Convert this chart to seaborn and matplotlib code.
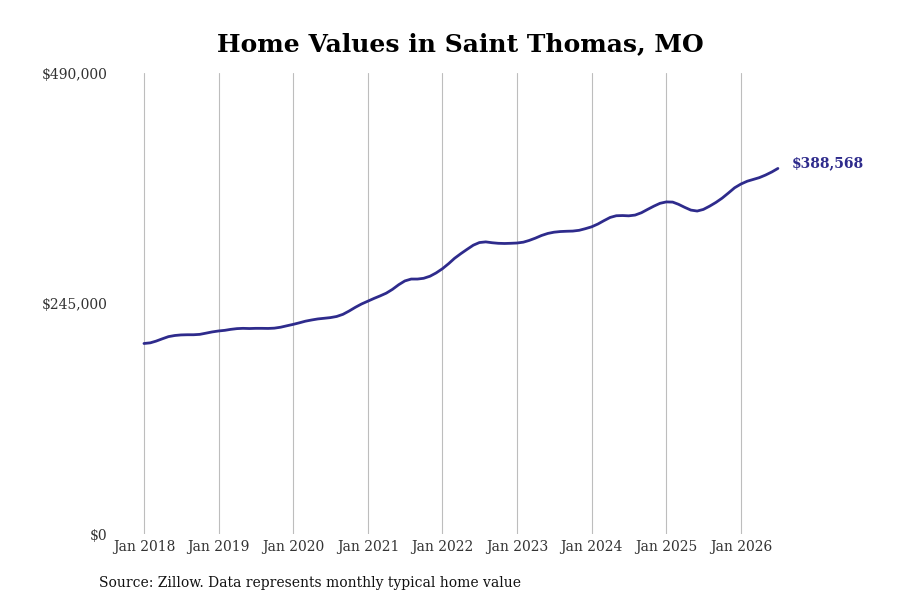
import pandas as pd
import seaborn as sns
import matplotlib.pyplot as plt
import matplotlib.ticker as mticker

# monthly typical home value, Jan 2018 - Jul 2026 (thousands of $)
values_2018 = [202.5, 203.2, 205.0, 207.5, 209.8, 211.0, 211.6, 211.8, 211.8, 212.2, 213.5, 214.8]
values_2019 = [215.8, 216.5, 217.5, 218.3, 218.6, 218.4, 218.6, 218.6, 218.5, 218.8, 219.8, 221.3]
values_2020 = [222.8, 224.5, 226.2, 227.5, 228.6, 229.3, 230.0, 231.2, 233.5, 237.0, 241.0, 244.5]
values_2021 = [247.5, 250.5, 253.0, 256.0, 260.0, 265.0, 269.0, 271.0, 271.0, 271.8, 274.0, 277.5]
values_2022 = [282.0, 287.5, 293.0, 298.0, 302.5, 307.0, 309.8, 310.5, 309.6, 309.0, 308.8, 309.0]
values_2023 = [309.3, 310.2, 312.0, 314.5, 317.3, 319.5, 320.8, 321.5, 321.8, 322.0, 322.8, 324.5]
values_2024 = [326.5, 329.5, 333.0, 336.5, 338.3, 338.5, 338.2, 339.0, 341.5, 345.0, 348.5, 351.5]
values_2025 = [353.0, 352.8, 350.5, 347.2, 344.3, 343.3, 345.0, 348.5, 352.5, 357.0, 362.5, 368.0]
values_2026 = [372.0, 375.0, 376.8, 378.8, 381.5, 384.8, 388.568]

all_values = (values_2018 + values_2019 + values_2020 + values_2021 + values_2022
              + values_2023 + values_2024 + values_2025 + values_2026)
dates = pd.date_range('2018-01-01', periods=len(all_values), freq='MS')
df = pd.DataFrame({'Date': dates, 'Value': [v * 1000 for v in all_values]})

y_ticks = [0, 245000, 490000]
x_tick_years = list(range(2018, 2027))
last_label = '$388,568'

line_color = '#2e2b8c'

sns.set_style('white')
plt.rcParams['font.family'] = ['DejaVu Serif']

fig = plt.figure(figsize=(9, 6), dpi=100)
ax = fig.add_axes([0.13, 0.11, 0.75, 0.7683])

sns.lineplot(data=df, x='Date', y='Value', color=line_color, linewidth=2.0, ax=ax)

ax.set_ylim(0, 490000)
ax.set_yticks(y_ticks)
ax.yaxis.set_major_formatter(mticker.FuncFormatter(lambda v, p: f'${v:,.0f}'))

ticks = [pd.Timestamp(f'{y}-01-01') for y in x_tick_years]
ax.set_xticks(ticks)
ax.set_xticklabels([t.strftime('%b %Y') for t in ticks])
ax.set_xlim(pd.Timestamp('2017-08-22'), pd.Timestamp('2026-09-08'))

ax.grid(axis='x', color='#bdbdbd', linewidth=0.8)
ax.grid(axis='y', visible=False)
for s in ax.spines.values():
    s.set_visible(False)
ax.tick_params(axis='x', length=0, labelsize=10, colors='#333333', pad=4)
ax.tick_params(axis='y', length=0, labelsize=10, colors='#333333', pad=7)
ax.set_xlabel('')
ax.set_ylabel('')

ax.annotate(last_label, xy=(df['Date'].iloc[-1], df['Value'].iloc[-1]),
            xytext=(10, 4), textcoords='offset points', color=line_color,
            fontweight='bold', fontsize=10, ha='left', va='center',
            annotation_clip=False)

fig.suptitle('Home Values in Saint Thomas, MO', fontsize=18, fontweight='bold',
             color='black', x=0.512, y=0.947)
fig.text(0.11, 0.022, 'Source: Zillow. Data represents monthly typical home value',
         fontsize=10, color='#111111')

fig.savefig('out.png', dpi=100)
